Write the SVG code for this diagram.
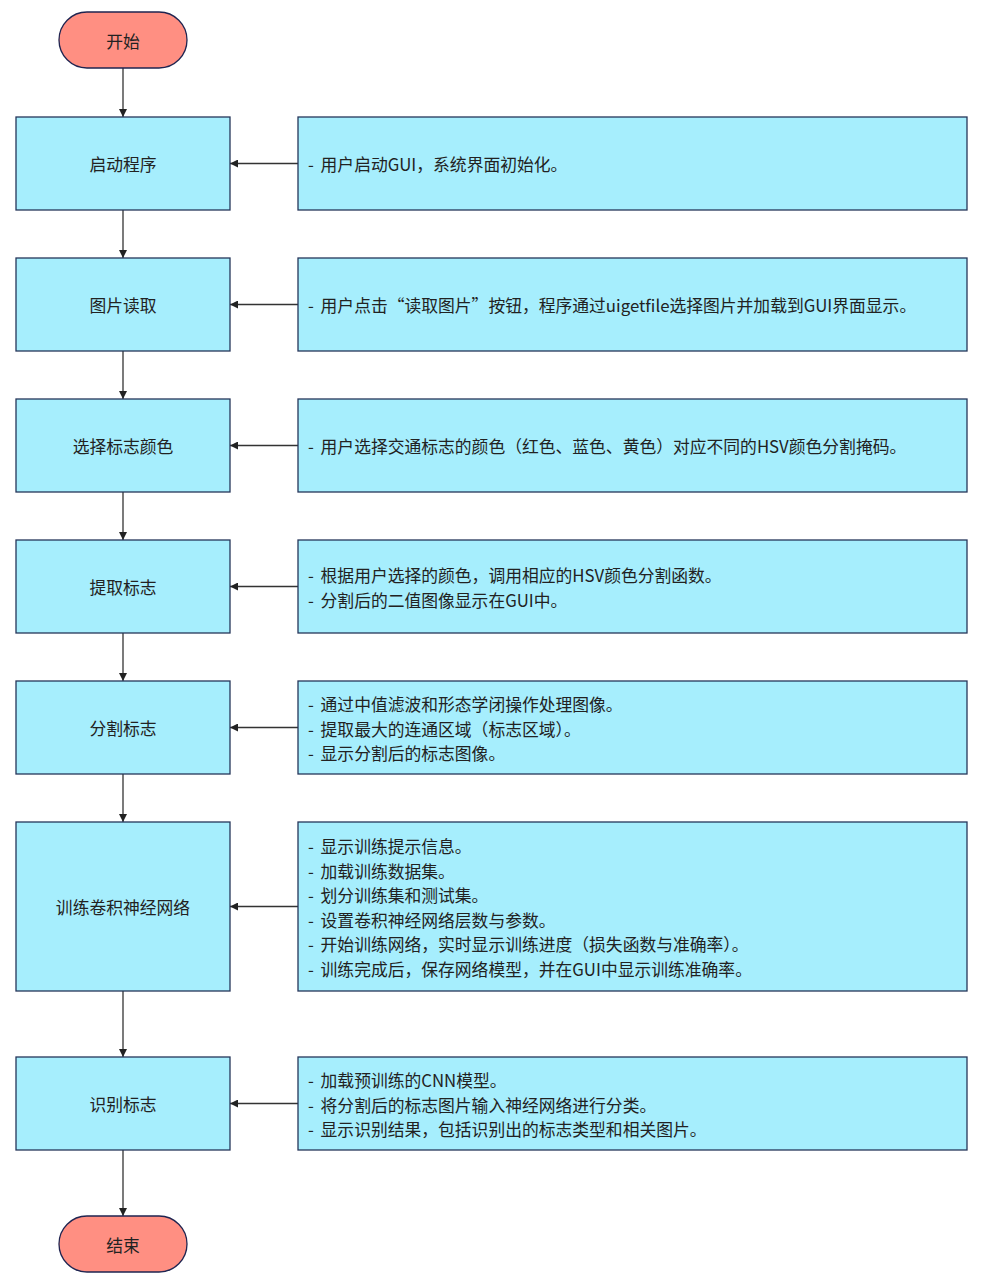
<svg xmlns="http://www.w3.org/2000/svg" width="982" height="1282" viewBox="0 0 982 1282">
<defs>
<marker id="ah" viewBox="0 0 10 10" refX="10" refY="5" markerWidth="8" markerHeight="8" markerUnits="userSpaceOnUse" orient="auto">
<path d="M0,0 L10,5 L0,10 Z" fill="#222"/>
</marker>
<style>
.term{fill:#FF8F82;stroke:#1f2450;stroke-width:1.3}
.box{fill:#A6EEFD;stroke:#26365a;stroke-width:1.3}
.t{font-family:"Noto Sans CJK SC","Microsoft YaHei",sans-serif;font-size:16.8px;fill:#222;dominant-baseline:central}
.c{text-anchor:middle}
.d{word-spacing:3px}
.edge{stroke:#333;stroke-width:1.3;fill:none;marker-end:url(#ah)}
</style>
</defs>
<rect width="982" height="1282" fill="#fff"/>
<g id="connectors">
<line class="edge" x1="123" y1="68" x2="123" y2="117"/>
<line class="edge" x1="123" y1="210" x2="123" y2="258"/>
<line class="edge" x1="123" y1="351" x2="123" y2="399"/>
<line class="edge" x1="123" y1="492" x2="123" y2="540"/>
<line class="edge" x1="123" y1="633" x2="123" y2="681"/>
<line class="edge" x1="123" y1="774" x2="123" y2="822"/>
<line class="edge" x1="123" y1="991" x2="123" y2="1057"/>
<line class="edge" x1="123" y1="1150" x2="123" y2="1216"/>
<line class="edge" x1="298" y1="163.5" x2="230" y2="163.5"/>
<line class="edge" x1="298" y1="304.5" x2="230" y2="304.5"/>
<line class="edge" x1="298" y1="445.5" x2="230" y2="445.5"/>
<line class="edge" x1="298" y1="586.5" x2="230" y2="586.5"/>
<line class="edge" x1="298" y1="727.5" x2="230" y2="727.5"/>
<line class="edge" x1="298" y1="906.5" x2="230" y2="906.5"/>
<line class="edge" x1="298" y1="1103.5" x2="230" y2="1103.5"/>
</g>
<g id="start">
<rect class="term" x="59" y="12" width="128" height="56" rx="28" ry="28"/>
<text class="t c" x="123" y="41">开始</text>
</g>
<g id="n1">
<rect class="box" x="16" y="117" width="214" height="93"/>
<text class="t c" x="123" y="164">启动程序</text>
</g>
<g id="d1">
<rect class="box" x="298" y="117" width="669" height="93"/>
<text class="t d" x="308" y="164">- 用户启动GUI，系统界面初始化。</text>
</g>
<g id="n2">
<rect class="box" x="16" y="258" width="214" height="93"/>
<text class="t c" x="123" y="305">图片读取</text>
</g>
<g id="d2">
<rect class="box" x="298" y="258" width="669" height="93"/>
<text class="t d" x="308" y="305">- 用户点击“读取图片”按钮，程序通过uigetfile选择图片并加载到GUI界面显示。</text>
</g>
<g id="n3">
<rect class="box" x="16" y="399" width="214" height="93"/>
<text class="t c" x="123" y="446">选择标志颜色</text>
</g>
<g id="d3">
<rect class="box" x="298" y="399" width="669" height="93"/>
<text class="t d" x="308" y="446">- 用户选择交通标志的颜色（红色、蓝色、黄色）对应不同的HSV颜色分割掩码。</text>
</g>
<g id="n4">
<rect class="box" x="16" y="540" width="214" height="93"/>
<text class="t c" x="123" y="587">提取标志</text>
</g>
<g id="d4">
<rect class="box" x="298" y="540" width="669" height="93"/>
<text class="t d" x="308" y="575">- 根据用户选择的颜色，调用相应的HSV颜色分割函数。</text>
<text class="t d" x="308" y="599.5">- 分割后的二值图像显示在GUI中。</text>
</g>
<g id="n5">
<rect class="box" x="16" y="681" width="214" height="93"/>
<text class="t c" x="123" y="728">分割标志</text>
</g>
<g id="d5">
<rect class="box" x="298" y="681" width="669" height="93"/>
<text class="t d" x="308" y="704">- 通过中值滤波和形态学闭操作处理图像。</text>
<text class="t d" x="308" y="728.5">- 提取最大的连通区域（标志区域）。</text>
<text class="t d" x="308" y="753">- 显示分割后的标志图像。</text>
</g>
<g id="n6">
<rect class="box" x="16" y="822" width="214" height="169"/>
<text class="t c" x="123" y="907">训练卷积神经网络</text>
</g>
<g id="d6">
<rect class="box" x="298" y="822" width="669" height="169"/>
<text class="t d" x="308" y="846">- 显示训练提示信息。</text>
<text class="t d" x="308" y="870.5">- 加载训练数据集。</text>
<text class="t d" x="308" y="895">- 划分训练集和测试集。</text>
<text class="t d" x="308" y="919.5">- 设置卷积神经网络层数与参数。</text>
<text class="t d" x="308" y="944">- 开始训练网络，实时显示训练进度（损失函数与准确率）。</text>
<text class="t d" x="308" y="968.5">- 训练完成后，保存网络模型，并在GUI中显示训练准确率。</text>
</g>
<g id="n7">
<rect class="box" x="16" y="1057" width="214" height="93"/>
<text class="t c" x="123" y="1104">识别标志</text>
</g>
<g id="d7">
<rect class="box" x="298" y="1057" width="669" height="93"/>
<text class="t d" x="308" y="1080">- 加载预训练的CNN模型。</text>
<text class="t d" x="308" y="1104.5">- 将分割后的标志图片输入神经网络进行分类。</text>
<text class="t d" x="308" y="1129">- 显示识别结果，包括识别出的标志类型和相关图片。</text>
</g>
<g id="end">
<rect class="term" x="59" y="1216" width="128" height="56" rx="28" ry="28"/>
<text class="t c" x="123" y="1245">结束</text>
</g>
</svg>
